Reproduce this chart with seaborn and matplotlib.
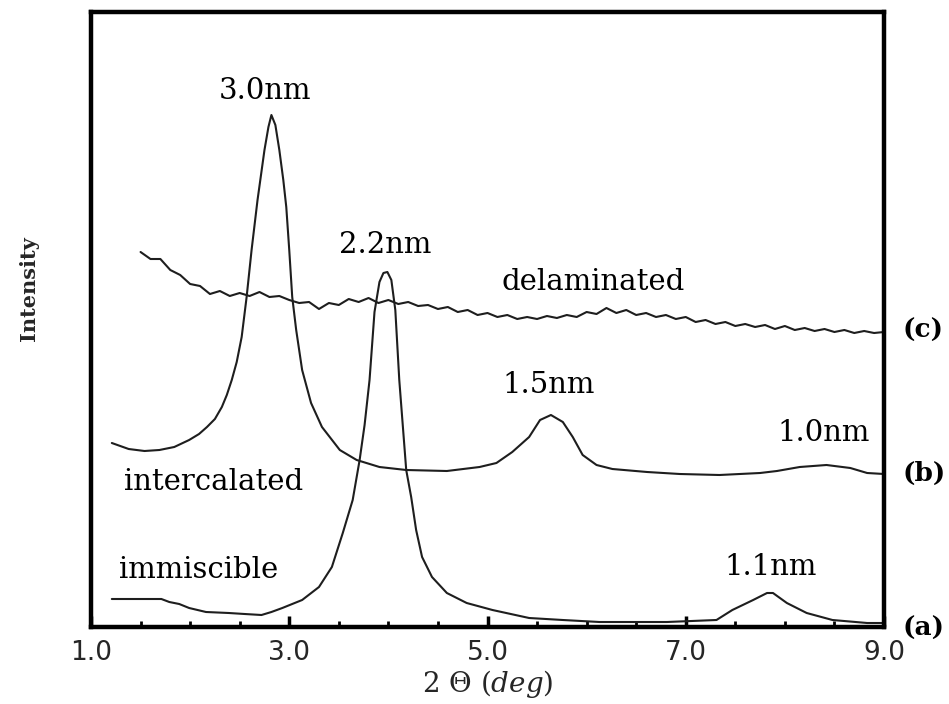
import matplotlib
matplotlib.use("Agg")
import matplotlib.pyplot as plt
import seaborn as sns
import pandas as pd
from matplotlib.ticker import MultipleLocator, FixedLocator

# XRD patterns of polymer/clay structures: 2-theta (deg) vs intensity (a.u.)
two_theta_a = [1.21, 1.71, 1.79, 1.89, 1.99, 2.16, 2.39, 2.55, 2.72, 2.82, 2.93,
               3.13, 3.30, 3.43, 3.54, 3.64, 3.71, 3.76, 3.81, 3.86, 3.91, 3.95,
               3.99, 4.03, 4.07, 4.11, 4.18, 4.23, 4.28, 4.34, 4.44, 4.59, 4.79,
               5.05, 5.42, 5.76, 6.13, 6.81, 7.31, 7.47, 7.68, 7.82, 7.88, 8.02,
               8.22, 8.48, 8.83, 9.00]
intensity_a = [28, 28, 25, 23, 19, 15, 14, 13, 12, 15, 19,
               27, 40, 60, 94, 127, 167, 202, 247, 315, 345, 354,
               355, 347, 317, 247, 157, 130, 97, 70, 50, 34, 24,
               17, 9, 7, 5, 5, 7, 17, 27, 34, 34, 24,
               14, 7, 4, 4]

two_theta_b = [1.21, 1.38, 1.54, 1.69, 1.84, 1.99, 2.09, 2.17, 2.25, 2.32, 2.37,
               2.42, 2.47, 2.52, 2.57, 2.62, 2.68, 2.75, 2.79, 2.82, 2.86, 2.90,
               2.94, 2.97, 3.00, 3.03, 3.07, 3.13, 3.22, 3.33, 3.51, 3.68, 3.91,
               4.18, 4.59, 4.92, 5.09, 5.25, 5.42, 5.53, 5.64, 5.76, 5.86, 5.96,
               6.10, 6.26, 6.61, 6.94, 7.34, 7.75, 7.92, 8.15, 8.42, 8.66, 8.83,
               9.00]
intensity_b = [184, 178, 176, 177, 180, 187, 193, 200, 208, 220, 232,
               247, 265, 290, 330, 377, 427, 477, 500, 512, 502, 477,
               447, 420, 377, 330, 297, 257, 224, 200, 177, 167, 160,
               157, 156, 160, 164, 175, 190, 207, 212, 205, 190, 172,
               162, 158, 155, 153, 152, 154, 156, 160, 162, 159, 154,
               153]

two_theta_c = [1.5, 1.6, 1.7, 1.8, 1.9, 2.0, 2.1, 2.2, 2.3, 2.4,
               2.5, 2.6, 2.7, 2.8, 2.9, 3.0, 3.1, 3.2, 3.3, 3.4,
               3.5, 3.6, 3.7, 3.8, 3.9, 4.0, 4.1, 4.2, 4.3, 4.4,
               4.5, 4.6, 4.7, 4.8, 4.9, 5.0, 5.1, 5.2, 5.3, 5.4,
               5.5, 5.6, 5.7, 5.8, 5.9, 6.0, 6.1, 6.2, 6.3, 6.4,
               6.5, 6.6, 6.7, 6.8, 6.9, 7.0, 7.1, 7.2, 7.3, 7.4,
               7.5, 7.6, 7.7, 7.8, 7.9, 8.0, 8.1, 8.2, 8.3, 8.4,
               8.5, 8.6, 8.7, 8.8, 8.9, 9.0]
intensity_c = [375, 368, 368, 357, 352, 343, 341, 333, 336, 331,
               334, 331, 335, 330, 331, 327, 324, 325, 318, 324,
               322, 328, 325, 329, 324, 327, 323, 325, 321, 322,
               318, 320, 315, 317, 312, 314, 310, 312, 308, 310,
               308, 311, 309, 312, 310, 315, 313, 319, 314, 317,
               312, 314, 310, 312, 308, 310, 305, 307, 303, 305,
               301, 303, 300, 302, 298, 301, 297, 299, 296, 298,
               295, 297, 294, 296, 294, 295]

# Annotation text: (label, left 2-theta, baseline intensity)
peak_labels = ["3.0nm", "2.2nm", "delaminated", "1.5nm", "1.0nm", "1.1nm",
               "intercalated", "immiscible"]
peak_label_x = [2.29, 3.50, 5.14, 5.15, 7.93, 7.39, 1.33, 1.28]
peak_label_y = [528, 374, 337, 234, 186, 52, 137, 49]

curve_tags = ["(a)", "(b)", "(c)"]
curve_tag_y = [-1, 154, 297]

x_ticks = [1.0, 3.0, 5.0, 7.0, 9.0]

sns.set_theme(style="white")
plt.rcParams["font.family"] = ["DejaVu Serif"]
plt.rcParams["mathtext.fontset"] = "dejavuserif"

fig = plt.figure(figsize=(9.49, 7.04), dpi=100)
ax = fig.add_axes([91 / 949, 1 - 627 / 704, (884 - 91) / 949, (627 - 12) / 704])

line_kw = dict(color="#1e1e1e", linewidth=1.5, ax=ax, legend=False)
df_a = pd.DataFrame({"x": two_theta_a, "y": intensity_a})
df_b = pd.DataFrame({"x": two_theta_b, "y": intensity_b})
df_c = pd.DataFrame({"x": two_theta_c, "y": intensity_c})
sns.lineplot(data=df_a, x="x", y="y", **line_kw)
sns.lineplot(data=df_b, x="x", y="y", **line_kw)
sns.lineplot(data=df_c, x="x", y="y", **line_kw)

ax.set_xlim(1.0, 9.0)
ax.set_ylim(0, 615)

for s in ax.spines.values():
    s.set_visible(True)
    s.set_color("black")
    s.set_linewidth(3.2)

ax.xaxis.set_major_locator(FixedLocator(x_ticks))
ax.xaxis.set_minor_locator(MultipleLocator(0.5))
ax.set_xticklabels([f"{t:.1f}" for t in x_ticks], fontfamily="DejaVu Sans",
                   fontsize=19)
ax.tick_params(axis="x", which="major", direction="in", length=8, width=2.5,
               color="black", pad=9, bottom=True, top=False)
ax.tick_params(axis="x", which="minor", direction="in", length=4, width=2,
               color="black", bottom=True, top=False)
ax.set_yticks([])

ax.set_xlabel("2 Θ $\\mathit{(deg)}$", fontsize=20, labelpad=2)
ax.set_ylabel("Intensity", fontsize=15, fontweight="bold")
ax.yaxis.set_label_coords(-0.066, 0.55)

for txt, lx, ly in zip(peak_labels, peak_label_x, peak_label_y):
    ax.text(lx, ly, txt, fontsize=21, ha="left", va="baseline", color="black")

for tag, ty in zip(curve_tags, curve_tag_y):
    ax.text(9.19, ty, tag, fontsize=19, fontweight="bold", ha="left",
            va="center", clip_on=False, color="black")

fig.savefig("out.png", dpi=100, facecolor="white")
